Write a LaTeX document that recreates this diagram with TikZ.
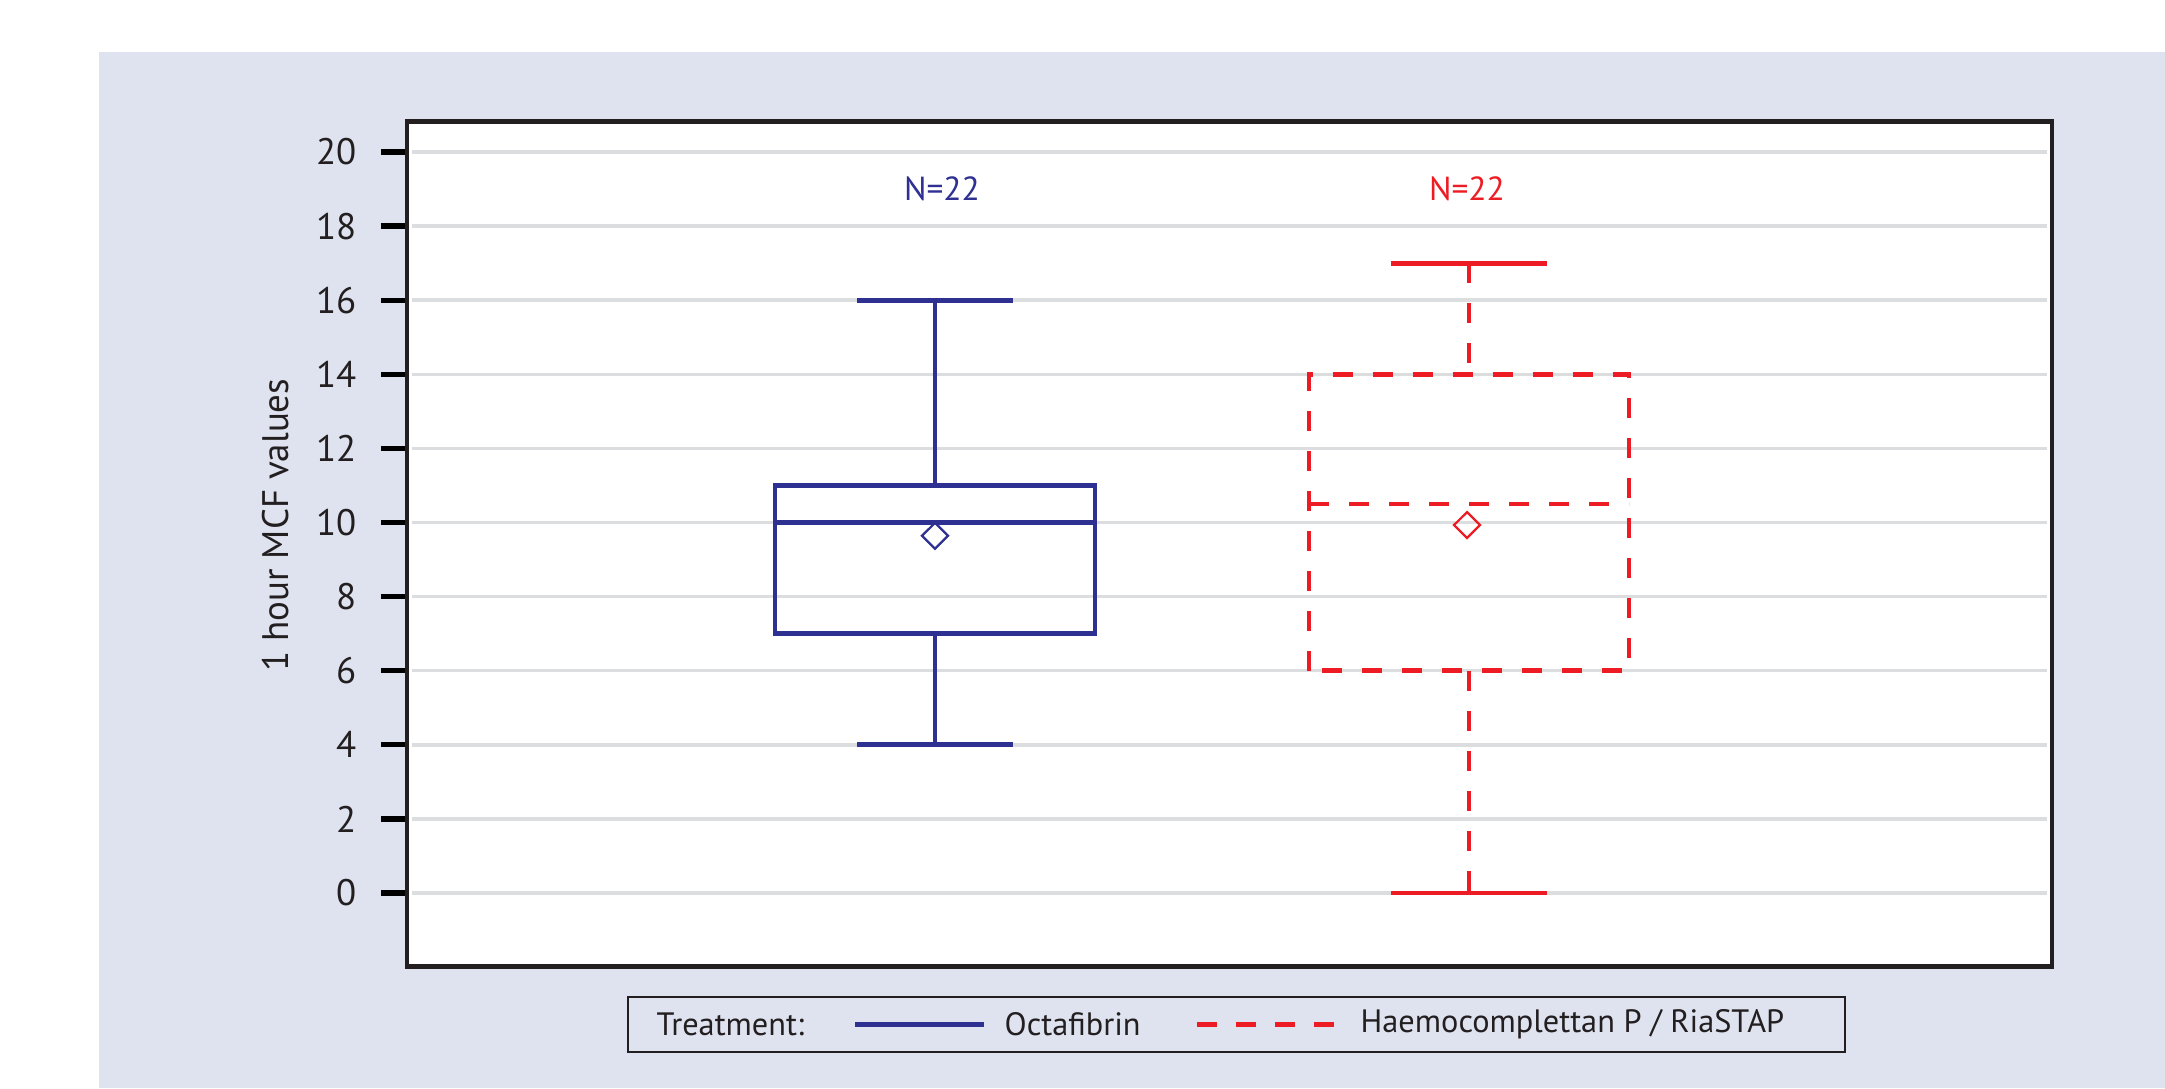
\documentclass[tikz,border=0pt]{standalone}
\usepackage{fontspec}
\setmainfont{PT Sans}
\usetikzlibrary{positioning}

\definecolor{panelbg}{RGB}{222,227,239}
\definecolor{gridgray}{RGB}{220,221,223}
\definecolor{inkgray}{RGB}{35,31,32}
\definecolor{octablue}{RGB}{46,49,146}
\definecolor{riared}{RGB}{237,28,36}

\begin{document}
\begin{tikzpicture}[
  axisline/.style={line width=1.4pt, inkgray},
  tickline/.style={line width=1.5pt, black},
  gridline/.style={line width=1pt, gridgray},
  octa/.style={line width=1.35pt, octablue},
  ria/.style={line width=1.35pt, riared, dash pattern=on 0.2cm off 0.2cm},
  riacap/.style={line width=1.35pt, riared},
  meanmark/.style={line width=0.65pt},
  ticklabel/.style={font=\fontsize{10.5}{12}\selectfont, text=inkgray, anchor=east, inner sep=0pt},
  legtext/.style={font=\fontsize{9.2}{11}\selectfont, text=inkgray, anchor=west, inner sep=0pt},
  ncount/.style={font=\fontsize{9.5}{11}\selectfont, inner sep=0pt}
]
\useasboundingbox (0,0) rectangle (21.65,10.88);
% panel
\fill[panelbg] (0.99,0) rectangle (21.65,10.36);
\fill[white] (4.07,1.215) rectangle (20.52,9.665);

\begin{scope}[yshift=1.95cm, y=0.3705cm]
% grid, ticks, labels
\foreach \v in {0,2,...,20} {
  \draw[gridline] (4.12,\v) -- (20.47,\v);
  \draw[tickline] (3.81,\v) -- (4.07,\v);
  \node[ticklabel] (tick\v) at (3.57,\v) {\v};
}
% Octafibrin
\draw[octa] (9.35,11) -- (9.35,16);
\draw[octa] (9.35,7) -- (9.35,4);
\draw[octa] (8.57,16) -- (10.13,16);
\draw[octa] (8.57,4) -- (10.13,4);
\draw[octa] (7.75,7) rectangle (10.95,11);
\draw[octa] (7.75,10) -- (10.95,10);
\draw[octa, meanmark] (9.35,9.64) +(-0.13,0) -- +(0,0.35) -- +(0.13,0) -- +(0,-0.35) -- cycle;
\node[ncount, text=octablue] (octaN) at (9.42,19) {N=22};
% Haemocomplettan P / RiaSTAP
\draw[ria] (14.69,17) -- (14.69,14);
\draw[ria] (14.69,6) -- (14.69,0);
\draw[riacap] (13.91,17) -- (15.47,17);
\draw[riacap] (13.91,0) -- (15.47,0);
\draw[ria] (13.09,6) rectangle (16.29,14);
\draw[ria] (13.09,10.5) -- (16.29,10.5);
\draw[riared, meanmark] (14.67,9.93) +(-0.13,0) -- +(0,0.35) -- +(0.13,0) -- +(0,-0.35) -- cycle;
\node[ncount, text=riared] (riaN) at (14.67,19) {N=22};
\end{scope}

% frame
\draw[axisline] (4.07,1.215) rectangle (20.52,9.665);
\node[rotate=90, font=\fontsize{10.5}{12}\selectfont, text=inkgray] (ylab) at (2.76,5.63) {1 hour MCF values};

% legend
\draw[line width=0.7pt, inkgray] (6.28,0.36) rectangle (18.45,0.91);
\node[legtext] (treat) at (6.56,0.635) {Treatment:};
\coordinate (octaA) at (8.55,0.635);
\coordinate (octaB) at (9.84,0.635);
\draw[octa] (octaA) -- (octaB);
\node[legtext, right=0.2cm of octaB] (octaL) {Octafibrin};
\coordinate (riaA) at (11.97,0.635);
\coordinate (riaB) at (13.34,0.635);
\draw[ria, dash pattern=on 0.2cm off 0.19cm] (riaA) -- (riaB);
\node[legtext] (riaL) at (13.60,0.635) {Haemocomplettan P / RiaSTAP};
\end{tikzpicture}
\end{document}
